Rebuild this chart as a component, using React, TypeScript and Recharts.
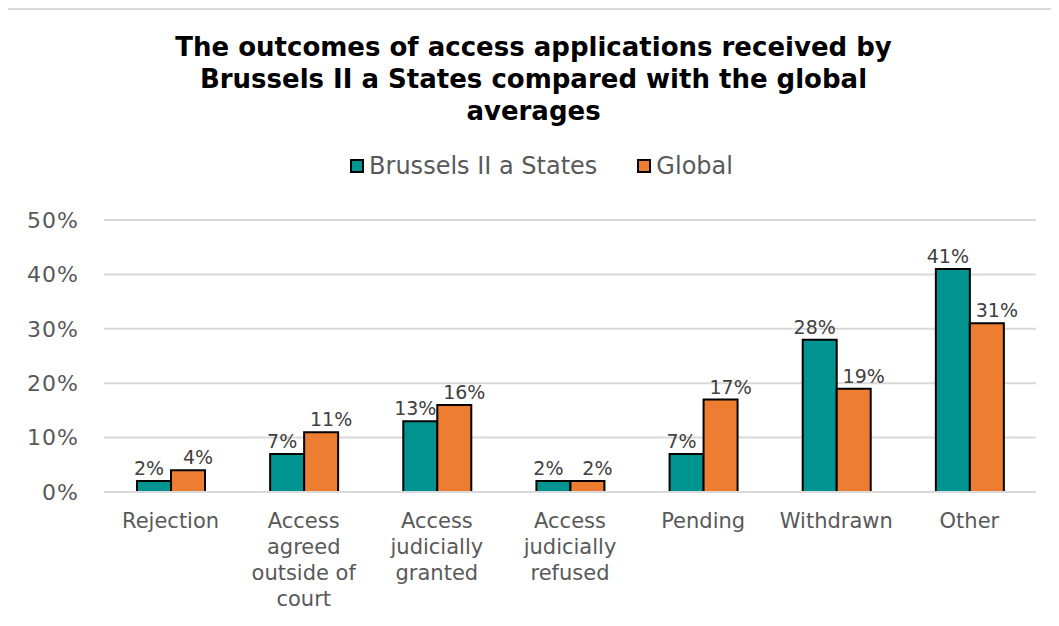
import React from 'react';
import { BarChart, Bar, XAxis, YAxis, CartesianGrid, Legend, LabelList } from 'recharts';

const categories = [
  ['Rejection'],
  ['Access', 'agreed', 'outside of', 'court'],
  ['Access', 'judicially', 'granted'],
  ['Access', 'judicially', 'refused'],
  ['Pending'],
  ['Withdrawn'],
  ['Other'],
];
const brusselsValues = [0.02, 0.07, 0.13, 0.02, 0.07, 0.28, 0.41];
const globalValues = [0.04, 0.11, 0.16, 0.02, 0.17, 0.19, 0.31];
const yTicks = [0, 0.1, 0.2, 0.3, 0.4, 0.5];

const data = categories.map((lines, i) => ({
  name: lines.join(' '),
  brussels: brusselsValues[i],
  global: globalValues[i],
}));

const FONT = '"DejaVu Sans", Verdana, sans-serif';
const TEAL = '#009490';
const ORANGE = '#ED7D31';

const pct = (v: number) => `${Math.round(v * 100)}%`;

// category labels wrap onto several lines like the original
const CategoryTick = ({ x, y, payload }: any) => {
  const lines = categories[payload.index] || [payload.value];
  return (
    <text x={x} y={y} textAnchor="middle" fill="#595959" fontSize={21} fontFamily={FONT}>
      {lines.map((l, i) => (
        <tspan key={i} x={x} dy={i === 0 ? 28 : 26}>
          {l}
        </tspan>
      ))}
    </text>
  );
};

const LegendContent = ({ payload }: any) => (
  <div style={{ display: 'flex', justifyContent: 'center', fontFamily: FONT, fontSize: 24, color: '#595959' }}>
    {payload.map((p: any, i: number) => (
      <div key={i} style={{ display: 'flex', alignItems: 'center', marginRight: i === 0 ? 40 : 0 }}>
        <span
          style={{
            display: 'inline-block',
            width: 10,
            height: 10,
            background: p.color,
            border: '2px solid #000',
            marginRight: 5,
          }}
        />
        <span>{p.value}</span>
      </div>
    ))}
  </div>
);

export default function App() {
  return (
    <div
      style={{
        position: 'relative',
        left: -2,
        width: 1053,
        height: 618,
        borderLeft: '2px solid #d0d0d0',
        borderTop: '2px solid #d9d9d9',
        background: '#fff',
      }}
    >
      <div
        style={{
          position: 'absolute',
          top: 21,
          left: 0,
          width: 1051,
          textAlign: 'center',
          fontFamily: FONT,
          fontWeight: 'bold',
          fontSize: 26,
          lineHeight: '32px',
          color: '#000',
        }}
      >
        The outcomes of access applications received by
        <br />
        Brussels II a States compared with the global
        <br />
        averages
      </div>
      <BarChart
        width={1051}
        height={616}
        data={data}
        margin={{ top: 210, right: 23, left: 0, bottom: 24 }}
        barGap={0}
        barSize={34}
      >
        <CartesianGrid vertical={false} stroke="#d9d9d9" strokeWidth={2} />
        <XAxis
          dataKey="name"
          height={110}
          axisLine={{ stroke: '#d9d9d9', strokeWidth: 2 }}
          tickLine={false}
          interval={0}
          tick={<CategoryTick />}
        />
        <YAxis
          width={96}
          domain={[0, 0.5]}
          ticks={yTicks}
          tickFormatter={pct}
          axisLine={false}
          tickLine={false}
          tickSize={0}
          tickMargin={25}
          tick={{ fill: '#595959', fontSize: 22, fontFamily: FONT, letterSpacing: 1 }}
        />
        <Legend
          layout="horizontal"
          verticalAlign="middle"
          align="center"
          wrapperStyle={{ top: 142, left: 8, width: 1051 }}
          content={<LegendContent />}
        />
        <Bar dataKey="brussels" name="Brussels II a States" fill={TEAL} stroke="#000" strokeWidth={2} isAnimationActive={false}>
          <LabelList dataKey="brussels" position="top" offset={6} dx={-5} formatter={pct} fill="#404040" fontSize={19} fontFamily={FONT} />
        </Bar>
        <Bar dataKey="global" name="Global" fill={ORANGE} stroke="#000" strokeWidth={2} isAnimationActive={false}>
          <LabelList dataKey="global" position="top" offset={6} dx={10} formatter={pct} fill="#404040" fontSize={19} fontFamily={FONT} />
        </Bar>
      </BarChart>
    </div>
  );
}
